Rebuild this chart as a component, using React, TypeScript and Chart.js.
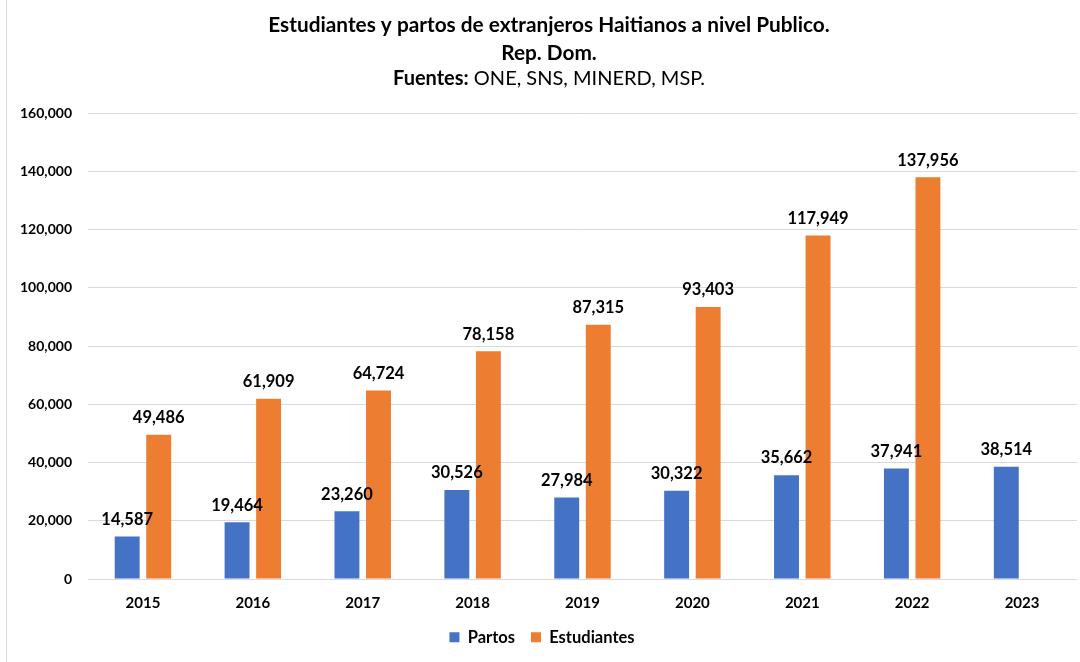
import React, { useEffect, useRef } from "react";
import { Chart, registerables } from "chart.js";

Chart.register(...registerables);

const years = ["2015", "2016", "2017", "2018", "2019", "2020", "2021", "2022", "2023"];
const partos = [14587, 19464, 23260, 30526, 27984, 30322, 35662, 37941, 38514];
const estudiantes: (number | null)[] = [49486, 61909, 64724, 78158, 87315, 93403, 117949, 137956, null];
const titleLine1 = "Estudiantes y partos de extranjeros Haitianos a nivel Publico.";
const titleLine2 = "Rep. Dom.";
const titleLine3Bold = "Fuentes:";
const titleLine3Rest = " ONE, SNS, MINERD, MSP.";

const FONT = "Lato, 'Liberation Sans', sans-serif";
const fmt = (v: number) => v.toLocaleString("en-US");

const titlePlugin = {
  id: "customTitle",
  afterDraw(chart: any) {
    const ctx = chart.ctx;
    const cx = chart.width / 2;
    ctx.save();
    ctx.fillStyle = "#000";
    ctx.textBaseline = "middle";
    ctx.textAlign = "center";
    ctx.font = `bold 20.8px ${FONT}`;
    ctx.fillText(titleLine1, cx, 25);
    ctx.fillText(titleLine2, cx, 53);
    ctx.font = `bold 20px ${FONT}`;
    const wb = ctx.measureText(titleLine3Bold).width;
    ctx.font = `20px ${FONT}`;
    const wr = ctx.measureText(titleLine3Rest).width;
    const start = cx - (wb + wr) / 2;
    ctx.textAlign = "left";
    ctx.font = `bold 20px ${FONT}`;
    ctx.fillText(titleLine3Bold, start, 79);
    ctx.font = `20px ${FONT}`;
    ctx.fillText(titleLine3Rest, start + wb, 79);
    ctx.restore();
  },
};

const labelPlugin = {
  id: "barLabels",
  afterDatasetsDraw(chart: any) {
    const ctx = chart.ctx;
    ctx.save();
    ctx.fillStyle = "#000";
    ctx.font = `bold 16.5px ${FONT}`;
    ctx.textAlign = "center";
    ctx.textBaseline = "middle";
    chart.data.datasets.forEach((ds: any, i: number) => {
      const meta = chart.getDatasetMeta(i);
      meta.data.forEach((bar: any, j: number) => {
        const v = ds.data[j];
        if (v === null || v === undefined) return;
        ctx.fillText(fmt(v), bar.x, bar.y - 17);
      });
    });
    ctx.restore();
  },
};

export default function App() {
  const ref = useRef<HTMLCanvasElement>(null);
  useEffect(() => {
    if (!ref.current) return;
    const chart = new Chart(ref.current, {
      type: "bar",
      data: {
        labels: years,
        datasets: [
          {
            label: "Partos",
            data: partos,
            backgroundColor: "#4472C4",
            categoryPercentage: 0.574,
            barPercentage: 0.79,
          },
          {
            label: "Estudiantes",
            data: estudiantes,
            backgroundColor: "#ED7D31",
            categoryPercentage: 0.574,
            barPercentage: 0.79,
          },
        ],
      },
      options: {
        animation: false,
        responsive: true,
        maintainAspectRatio: false,
        layout: { padding: { top: 113, right: 14, left: 0, bottom: 6.5 } },
        plugins: {
          title: { display: false },
          tooltip: { enabled: false },
          legend: {
            position: "bottom",
            labels: {
              boxWidth: 10,
              boxHeight: 10,
              padding: 16,
              color: "#000",
              font: { family: FONT, size: 16.5, weight: "bold" },
            },
          },
        },
        scales: {
          x: {
            grid: { display: false, drawTicks: false },
            border: { display: false },
            ticks: {
              color: "#000",
              padding: 15,
              font: { family: FONT, size: 15, weight: "bold" },
            },
            afterFit(scale: any) {
              scale.height = 34;
            },
          },
          y: {
            min: 0,
            max: 160000,
            grid: { color: "#d9d9d9", drawTicks: false },
            border: { display: false },
            ticks: {
              stepSize: 20000,
              padding: 16,
              color: "#000",
              font: { family: FONT, size: 14, weight: "bold" },
              callback: (v: any) => fmt(Number(v)),
            },
            afterFit(scale: any) {
              scale.width = 81;
            },
          },
        },
      },
      plugins: [titlePlugin, labelPlugin],
    });
    return () => chart.destroy();
  }, []);
  return (
    <div style={{ position: "fixed", left: 0, top: 0, width: 1080, height: 662, overflow: "hidden", background: "#fff" }}>
      <div style={{ position: "absolute", left: 6, top: 0, width: 1, height: 662, background: "#d9d9d9" }} />
      <div style={{ position: "absolute", left: 7, top: 0, width: 1084, height: 662 }}>
        <canvas ref={ref} />
      </div>
    </div>
  );
}
